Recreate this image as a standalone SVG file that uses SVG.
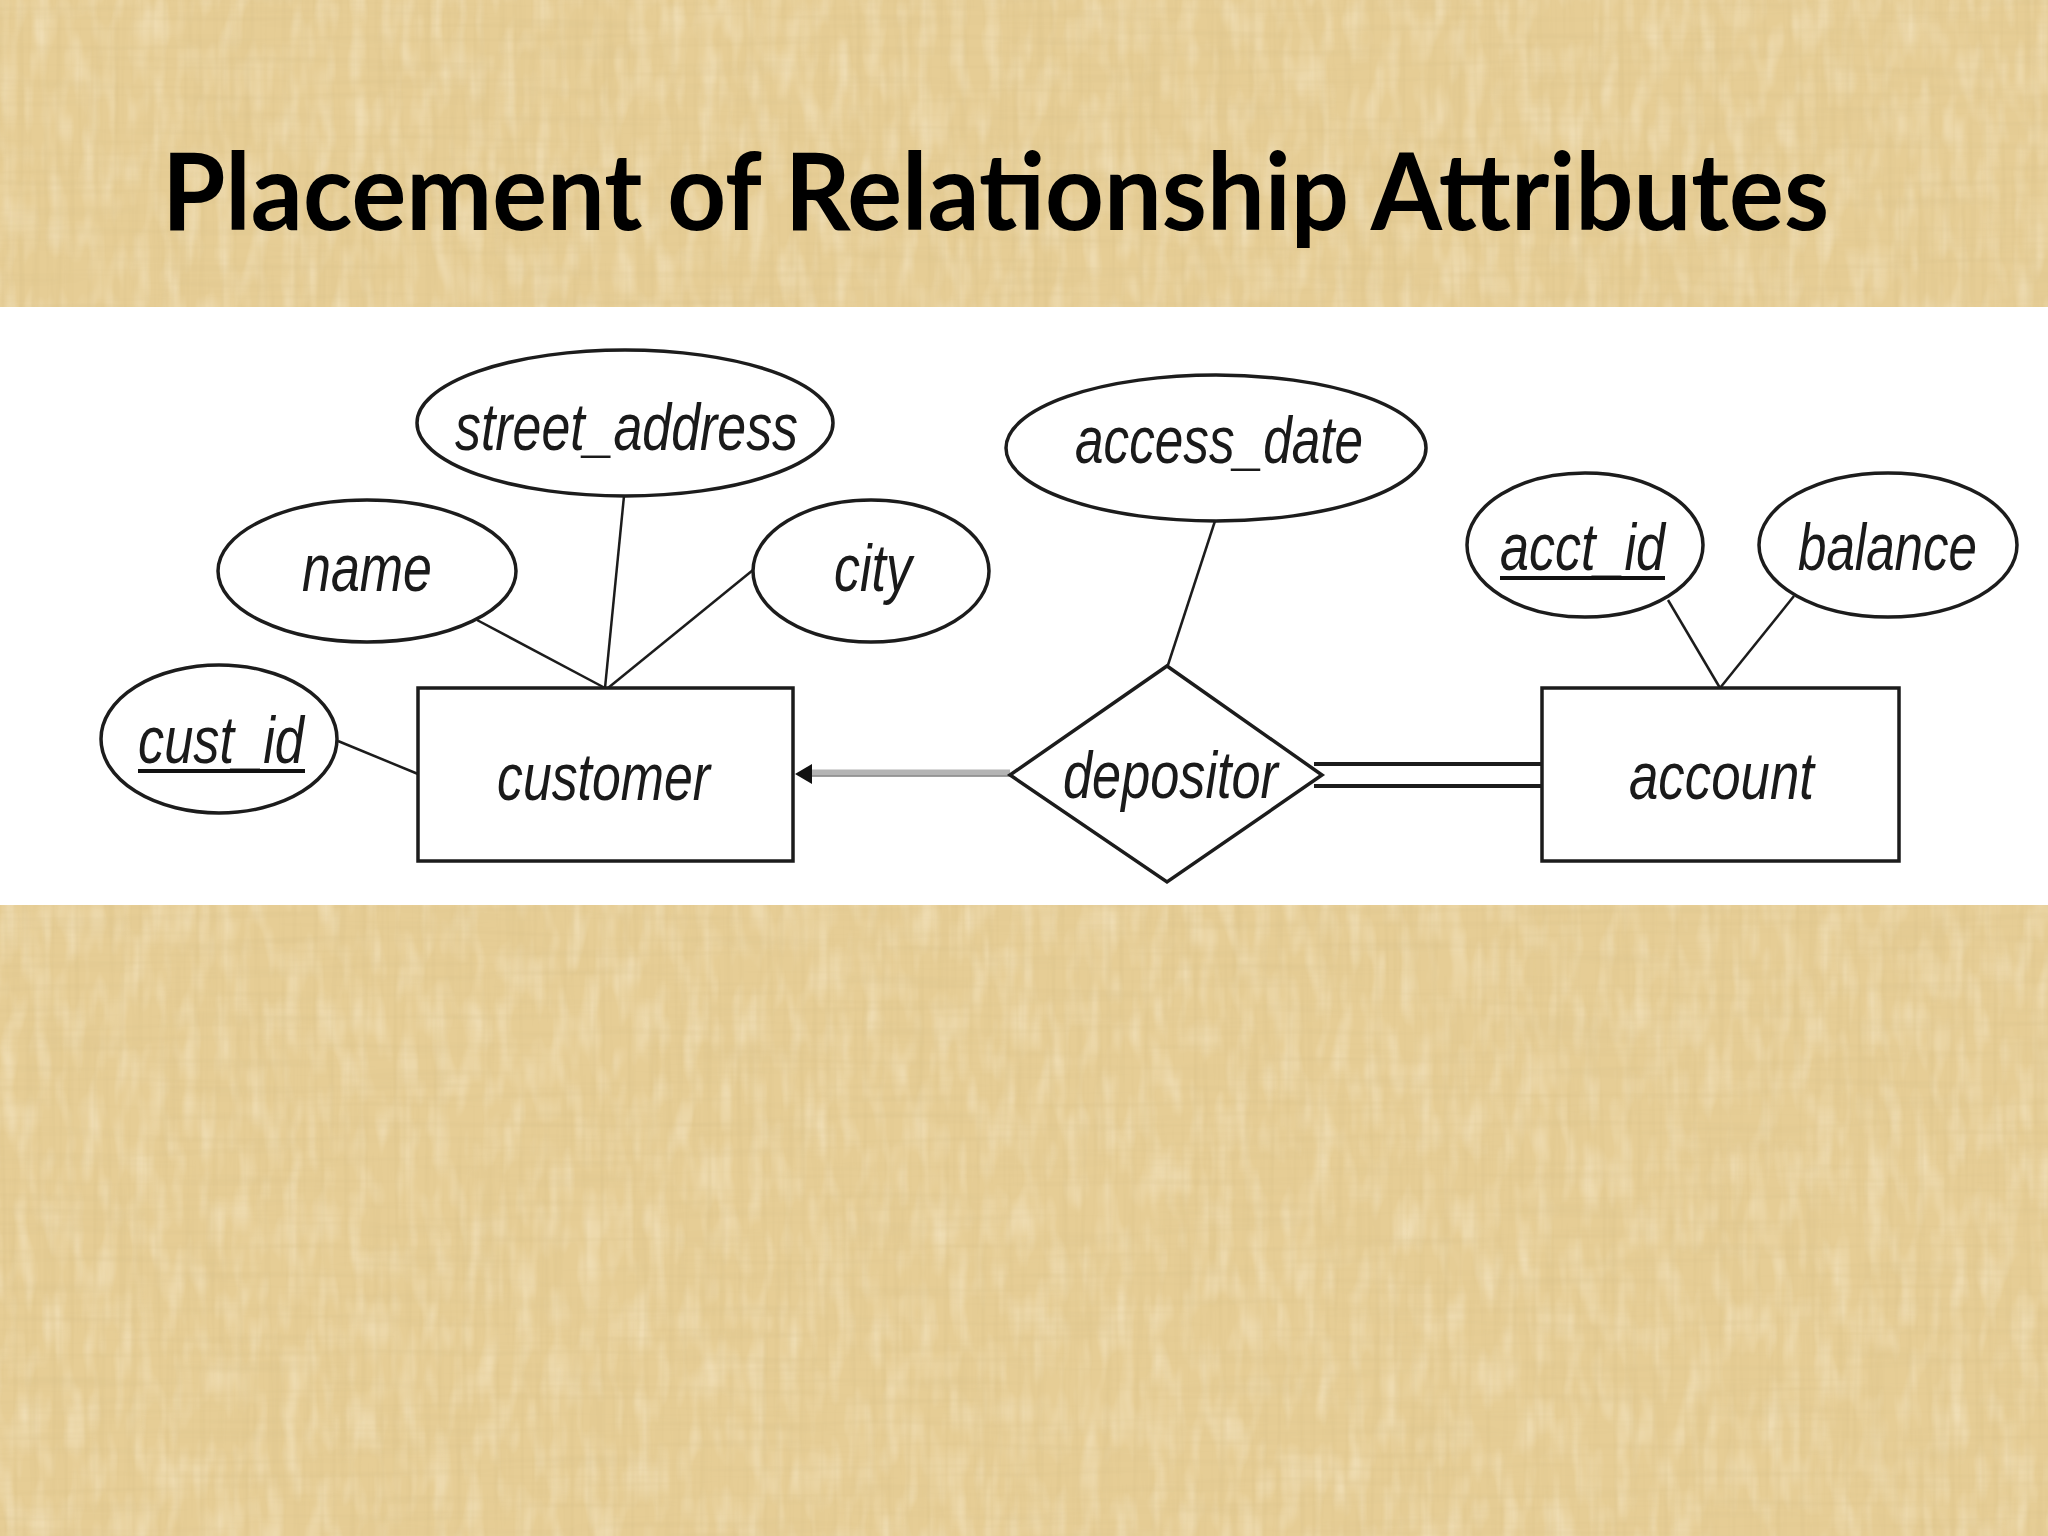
<svg xmlns="http://www.w3.org/2000/svg" width="2048" height="1536" viewBox="0 0 2048 1536">
  <defs>
    <style>
      .shape { fill: #ffffff; stroke: #1c1c1c; stroke-width: 3.5; }
      .link { stroke: #1c1c1c; stroke-width: 2.5; fill: none; }
      .lbl { font-family: "Liberation Sans", Arial, sans-serif; font-style: italic; font-size: 66px; fill: #1a1a1a; }
      .ul { stroke: #111111; stroke-width: 4; }
      .title { font-family: Lato, "Open Sans", "Liberation Sans", sans-serif; font-weight: bold; font-size: 108px; fill: #000000; }
    </style>
    <filter id="streakV" x="0" y="0" width="100%" height="100%" filterUnits="userSpaceOnUse">
      <feTurbulence type="fractalNoise" baseFrequency="0.16 0.006" numOctaves="2" seed="4"/>
      <feColorMatrix type="matrix" values="0 0 0 0 0.66  0 0 0 0 0.50  0 0 0 0 0.22  0.6 0 0 0 -0.27"/>
    </filter>
    <filter id="streakH" x="0" y="0" width="100%" height="100%" filterUnits="userSpaceOnUse">
      <feTurbulence type="fractalNoise" baseFrequency="0.006 0.14" numOctaves="2" seed="9"/>
      <feColorMatrix type="matrix" values="0 0 0 0 0.66  0 0 0 0 0.51  0 0 0 0 0.24  0.55 0 0 0 -0.25"/>
    </filter>
    <filter id="light" x="0" y="0" width="100%" height="100%" filterUnits="userSpaceOnUse">
      <feTurbulence type="fractalNoise" baseFrequency="0.06 0.02" numOctaves="2" seed="17"/>
      <feColorMatrix type="matrix" values="0 0 0 0 1  0 0 0 0 0.95  0 0 0 0 0.82  0.8 0 0 0 -0.34"/>
    </filter>
  </defs>

  <!-- textured background -->
  <g id="background">
    <rect x="0" y="0" width="2048" height="1536" fill="#e6cd95"/>
    <rect x="0" y="0" width="2048" height="1536" fill="#000" filter="url(#light)"/>
    <rect x="0" y="0" width="2048" height="1536" fill="#000" filter="url(#streakV)"/>
    <rect x="0" y="0" width="2048" height="1536" fill="#000" filter="url(#streakH)"/>
    <rect x="0" y="307" width="2048" height="598" fill="#ffffff"/>
  </g>

  <text id="title" class="title" x="162" y="230" textLength="1667" lengthAdjust="spacingAndGlyphs">Placement of Relationship Attributes</text>

  <g id="connectors">
    <line class="link" x1="624" y1="496" x2="605" y2="688"/>
    <line class="link" x1="477" y1="620" x2="605" y2="688"/>
    <line class="link" x1="753" y1="570" x2="608" y2="688"/>
    <line class="link" x1="338" y1="741" x2="418" y2="774"/>
    <line class="link" x1="1215" y1="521" x2="1167" y2="668"/>
    <line class="link" x1="1668" y1="600" x2="1720" y2="688"/>
    <line class="link" x1="1794" y1="596" x2="1720" y2="688"/>
    <!-- depositor to customer (arrow) -->
    <line x1="1010" y1="773" x2="812" y2="773" stroke="#b4b4b4" stroke-width="7"/>
    <line x1="1010" y1="776" x2="812" y2="776" stroke="#8a8a8a" stroke-width="1.5"/>
    <polygon points="795,774 812,764 812,784" fill="#111111"/>
    <!-- total participation double line -->
    <line x1="1314" y1="764" x2="1542" y2="764" stroke="#1c1c1c" stroke-width="4"/>
    <line x1="1314" y1="786" x2="1542" y2="786" stroke="#1c1c1c" stroke-width="4"/>
  </g>

  <g id="street_address">
    <ellipse class="shape" cx="625" cy="423" rx="208" ry="73"/>
    <text class="lbl" x="455" y="450" textLength="343" lengthAdjust="spacingAndGlyphs">street_address</text>
  </g>
  <g id="name">
    <ellipse class="shape" cx="367" cy="571" rx="149" ry="71"/>
    <text class="lbl" x="302" y="591" textLength="130" lengthAdjust="spacingAndGlyphs">name</text>
  </g>
  <g id="city">
    <ellipse class="shape" cx="871" cy="571" rx="118" ry="71"/>
    <text class="lbl" x="834" y="591" textLength="78" lengthAdjust="spacingAndGlyphs">city</text>
  </g>
  <g id="cust_id">
    <ellipse class="shape" cx="219" cy="739" rx="118" ry="74"/>
    <text class="lbl" x="138" y="763" textLength="166" lengthAdjust="spacingAndGlyphs">cust_id</text>
    <line class="ul" x1="138" y1="771" x2="305" y2="771"/>
  </g>
  <g id="customer">
    <rect class="shape" x="418" y="688" width="375" height="173"/>
    <text class="lbl" x="497" y="800" textLength="213" lengthAdjust="spacingAndGlyphs">customer</text>
  </g>
  <g id="access_date">
    <ellipse class="shape" cx="1216" cy="448" rx="210" ry="73"/>
    <text class="lbl" x="1075" y="463" textLength="288" lengthAdjust="spacingAndGlyphs">access_date</text>
  </g>
  <g id="depositor">
    <polygon class="shape" points="1167,666 1322,775 1167,882 1010,775"/>
    <text class="lbl" x="1063" y="798" textLength="215" lengthAdjust="spacingAndGlyphs">depositor</text>
  </g>
  <g id="acct_id">
    <ellipse class="shape" cx="1585" cy="545" rx="118" ry="72"/>
    <text class="lbl" x="1500" y="570" textLength="165" lengthAdjust="spacingAndGlyphs">acct_id</text>
    <line class="ul" x1="1500" y1="578" x2="1665" y2="578"/>
  </g>
  <g id="balance">
    <ellipse class="shape" cx="1888" cy="545" rx="129" ry="72"/>
    <text class="lbl" x="1798" y="570" textLength="179" lengthAdjust="spacingAndGlyphs">balance</text>
  </g>
  <g id="account">
    <rect class="shape" x="1542" y="688" width="357" height="173"/>
    <text class="lbl" x="1629" y="799" textLength="185" lengthAdjust="spacingAndGlyphs">account</text>
  </g>
</svg>
